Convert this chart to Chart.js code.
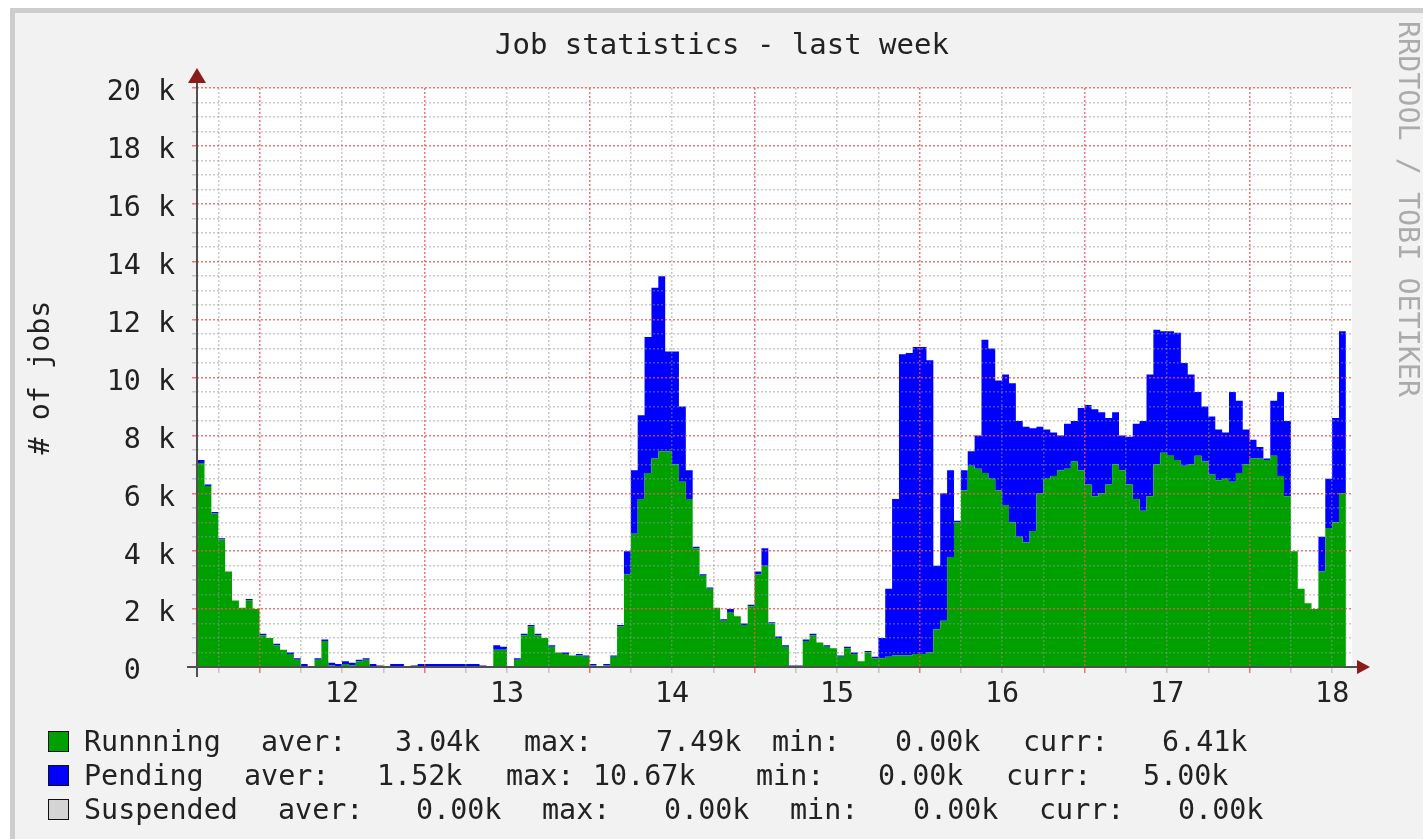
<!DOCTYPE html>
<html>
<head>
<meta charset="utf-8">
<title>Job statistics - last week</title>
<script src="https://cdn.jsdelivr.net/npm/chart.js@4.4.1/dist/chart.umd.min.js"></script>
<style>
  html, body { margin: 0; padding: 0; background: #fff; overflow: hidden; width: 1423px; height: 839px; }
  #frame { position: absolute; left: 10px; top: 8px; width: 1500px; height: 900px; background: #f2f2f2;
           border-left: 5px solid #cdcdcd; border-top: 5px solid #cdcdcd; }
  #chart { position: absolute; left: 0; top: 0; }
  .txt { position: absolute; font-family: "DejaVu Sans Mono", monospace; font-size: 28.4px; line-height: 34px;
         color: #222; white-space: pre; }
  #title { left: 0; width: 1444px; top: 27px; text-align: center; font-size: 29px; }
  #wm { left: 1393px; top: 21px; writing-mode: vertical-rl; color: #ababab; line-height: 30px; }
  .box { position: absolute; left: 48px; width: 21px; height: 21px; box-sizing: border-box; border: 1.5px solid #111; }
</style>
</head>
<body>
<div id="frame"></div>
<canvas id="chart" width="1423" height="839"></canvas>
<div id="title" class="txt">Job statistics - last week</div>
<div id="wm" class="txt">RRDTOOL / TOBI OETIKER</div>
<div id="legend"></div>

<script>
// hourly samples, first one at day 11 03:00 (values in thousands of jobs)
const START_DAY = 11.125;

const running = [
  7.05, 6.25, 5.3, 4.4, 3.3, 2.3, 2.05, 2.3, 2.0, 1.1,
  1.0, 0.75, 0.6, 0.45, 0.25, 0, 0, 0.25, 0.9, 0.05,
  0, 0.1, 0.05, 0.2, 0.25, 0, 0, 0, 0, 0,
  0, 0, 0, 0, 0, 0, 0, 0, 0, 0,
  0, 0, 0, 0.6, 0.6, 0, 0.25, 1.1, 1.4, 1.1,
  1.0, 0.7, 0.5, 0.45, 0.4, 0.4, 0.35, 0.05, 0, 0.05,
  0.35, 1.4, 3.2, 4.6, 5.8, 6.7, 7.2, 7.45, 7.45, 7.0,
  6.4, 5.8, 4.1, 3.15, 2.7, 2.05, 1.6, 1.9, 1.75, 1.45,
  2.1, 3.2, 3.5, 1.5, 1.0, 0.7, 0, 0, 0.9, 1.1,
  0.85, 0.7, 0.65, 0.35, 0.65, 0.45, 0.2, 0.5, 0.3, 0.3,
  0.35, 0.4, 0.4, 0.4, 0.45, 0.45, 0.5, 1.3, 1.6, 3.8,
  5.0, 6.1, 6.95, 6.85, 6.7, 6.5, 6.1, 5.6, 5.0, 4.5,
  4.3, 4.7, 6.0, 6.5, 6.6, 6.8, 6.85, 7.1, 6.8, 6.3,
  5.9, 6.0, 6.3, 7.0, 6.8, 6.3, 5.8, 5.4, 5.9, 7.0,
  7.4, 7.3, 7.15, 6.95, 7.0, 7.3, 7.1, 6.65, 6.45, 6.5,
  6.4, 6.7, 7.0, 7.2, 7.2, 7.15, 7.3, 6.6, 5.9, 4.0,
  2.7, 2.2, 2.0, 3.3, 4.8, 5.0, 6.0, 6.41
];

const pending = [
  0.1, 0.05, 0.05, 0.05, 0, 0, 0, 0.05, 0, 0.05,
  0, 0.05, 0, 0.05, 0.05, 0.1, 0, 0.05, 0.05, 0.1,
  0.1, 0.1, 0.1, 0.05, 0.05, 0.1, 0.05, 0, 0.1, 0.1,
  0, 0.05, 0.1, 0.1, 0.1, 0.1, 0.1, 0.1, 0.1, 0.1,
  0.1, 0.05, 0, 0.15, 0.1, 0, 0.05, 0.05, 0.05, 0.05,
  0, 0.05, 0, 0.05, 0, 0.05, 0.05, 0.05, 0, 0.05,
  0.05, 0.05, 0.8, 2.2, 2.9, 4.7, 5.9, 6.05, 3.45, 3.9,
  2.6, 1.0, 0.05, 0.05, 0.05, 0, 0.05, 0.1, 0, 0.05,
  0.05, 0.1, 0.6, 0.05, 0.05, 0.05, 0.05, 0.05, 0.05, 0.05,
  0, 0.05, 0, 0.05, 0.05, 0.05, 0, 0.05, 0.05, 0.7,
  2.35, 5.4, 10.4, 10.45, 10.6, 10.6, 10.1, 2.2, 4.4, 3.0,
  0.05, 0.7, 0.5, 1.15, 4.6, 4.5, 3.8, 4.5, 4.8, 4.0,
  4.0, 3.55, 2.3, 1.7, 1.5, 1.2, 1.55, 1.4, 2.15, 2.75,
  3.0, 2.8, 2.3, 1.8, 1.2, 1.65, 2.6, 3.1, 4.2, 4.65,
  4.2, 4.3, 4.4, 3.55, 3.1, 2.2, 1.9, 2.0, 1.75, 1.6,
  3.1, 2.5, 1.2, 0.65, 0.4, 0.05, 1.9, 2.9, 2.6, 0,
  0, 0, 0, 1.2, 1.7, 3.6, 5.6, 5.0
];

// legend / statistics
const seriesNames  = ['Runnning', 'Pending', 'Suspended'];
const seriesColors = ['#00a000', '#0000ff', '#d4d4d4'];
const statAver = ['3.04k', '1.52k', '0.00k'];
const statMax  = ['7.49k', '10.67k', '0.00k'];
const statMin  = ['0.00k', '0.00k', '0.00k'];
const statCurr = ['6.41k', '5.00k', '0.00k'];

const times = running.map((_, i) => START_DAY + i / 24);

const FONT = { family: '"DejaVu Sans Mono", monospace', size: 28.4 };
const MAJOR = 'rgba(235, 85, 85, 0.8)';
const MINOR = 'rgba(150, 150, 150, 0.5)';

// legend rows
const legendLefts = [
  [84, 261, 395, 524, 656, 772, 895, 1023, 1162],
  [84, 244, 377, 506, 593, 756, 878, 1006, 1143],
  [84, 278, 416, 542, 664, 790, 913, 1039, 1178]
];
const legendTops = [725, 759, 793];
const legend = document.getElementById('legend');
seriesNames.forEach((name, r) => {
  const box = document.createElement('div');
  box.className = 'box';
  box.style.top = (legendTops[r] + 6) + 'px';
  box.style.background = seriesColors[r];
  legend.appendChild(box);
  const parts = [name, 'aver:', statAver[r], 'max:', statMax[r], 'min:', statMin[r], 'curr:', statCurr[r]];
  parts.forEach((t, k) => {
    const s = document.createElement('div');
    s.className = 'txt';
    s.textContent = t;
    s.style.left = legendLefts[r][k] + 'px';
    s.style.top = legendTops[r] + 'px';
    legend.appendChild(s);
  });
});

// white plot area, axis lines and arrow heads
const rrdFrame = {
  id: 'rrdFrame',
  beforeDraw(chart) {
    const { ctx, chartArea: a } = chart;
    ctx.save();
    ctx.fillStyle = '#ffffff';
    ctx.fillRect(a.left, a.top, a.right - a.left, a.bottom - a.top);
    ctx.restore();
  },
  afterDraw(chart) {
    const { ctx, chartArea: a } = chart;
    ctx.save();
    ctx.strokeStyle = '#505050';
    ctx.lineWidth = 2;
    ctx.beginPath();
    ctx.moveTo(a.left - 10, a.bottom);
    ctx.lineTo(a.right + 8, a.bottom);
    ctx.moveTo(a.left, a.bottom + 10);
    ctx.lineTo(a.left, a.top - 8);
    ctx.stroke();
    ctx.fillStyle = '#8b1a1a';
    ctx.beginPath();
    ctx.moveTo(a.right + 5, a.bottom - 7);
    ctx.lineTo(a.right + 18, a.bottom);
    ctx.lineTo(a.right + 5, a.bottom + 7);
    ctx.fill();
    ctx.beginPath();
    ctx.moveTo(a.left - 9, a.top - 5);
    ctx.lineTo(a.left, a.top - 20);
    ctx.lineTo(a.left + 9, a.top - 5);
    ctx.fill();
    ctx.restore();
  }
};

const xColor = c => (c.tick && c.tick.value % 1 === 0.5) ? MAJOR : MINOR;
const yColor = c => (c.tick && c.tick.value % 2 === 0) ? MAJOR : MINOR;

new Chart(document.getElementById('chart'), {
  type: 'line',
  data: {
    labels: times,
    datasets: [
      {
        label: 'Runnning',
        data: running,
        backgroundColor: seriesColors[0],
        borderColor: 'rgba(0,0,0,0)',
        borderWidth: 0,
        fill: 'origin',
        stepped: 'before',
        pointRadius: 0
      },
      {
        label: 'Pending',
        data: pending,
        backgroundColor: seriesColors[1],
        borderColor: 'rgba(0,0,0,0)',
        borderWidth: 0,
        fill: '-1',
        stepped: 'before',
        pointRadius: 0
      }
    ]
  },
  options: {
    responsive: false,
    animation: false,
    devicePixelRatio: 1,
    layout: { padding: { left: 0, right: 71, top: 88, bottom: 0 } },
    plugins: {
      legend: { display: false },
      tooltip: { enabled: false }
    },
    scales: {
      x: {
        type: 'linear',
        min: 11.1212,
        max: 18.1203,
        afterFit: s => { s.height = 172; },
        border: { display: false, dash: [2, 2] },
        grid: { z: 1, color: xColor, tickColor: xColor, lineWidth: 1.5, tickLength: 6, tickBorderDash: [] },
        ticks: {
          stepSize: 0.25,
          autoSkip: false,
          includeBounds: false,
          maxRotation: 0,
          padding: 5,
          font: FONT,
          color: '#222',
          callback: v => Number.isInteger(v) ? String(v) : ''
        }
      },
      y: {
        stacked: true,
        min: 0,
        max: 20,
        afterFit: s => { s.width = 197; },
        border: { display: false, dash: [2, 2] },
        grid: { z: 1, color: yColor, tickColor: yColor, lineWidth: 1.5, tickLength: 5, tickBorderDash: [] },
        ticks: {
          stepSize: 0.5,
          autoSkip: false,
          padding: 17,
          labelOffset: 5,
          font: FONT,
          color: '#222',
          callback: v => v % 2 !== 0 ? '' : (v === 0 ? '0  ' : v + ' k')
        },
        title: {
          display: true,
          text: '# of jobs',
          font: FONT,
          color: '#222',
          padding: { top: 25, bottom: 0 }
        }
      }
    }
  },
  plugins: [rrdFrame]
});
</script>
</body>
</html>
